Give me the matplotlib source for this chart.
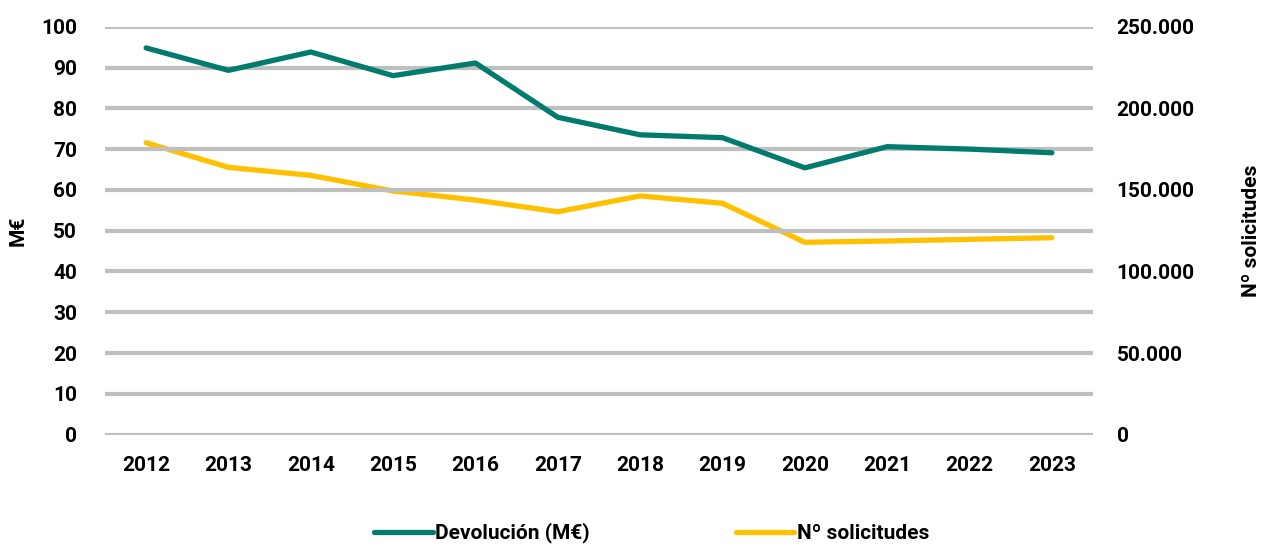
import matplotlib
matplotlib.use("Agg")
import matplotlib.pyplot as plt
from matplotlib.ticker import FuncFormatter

plt.rcParams['font.family'] = ['Roboto', 'DejaVu Sans']
plt.rcParams['font.weight'] = 'bold'

years = ["2012", "2013", "2014", "2015", "2016", "2017", "2018", "2019", "2020", "2021", "2022", "2023"]
devolucion = [94.8, 89.3, 93.8, 88.0, 91.1, 77.8, 73.5, 72.8, 65.4, 70.6, 70.0, 69.1]
solicitudes = [178900, 163800, 158900, 149300, 143800, 136600, 146300, 141800, 117900, 118700, 119700, 120700]

green = "#007B6E"
yellow = "#FFC000"
grid_c = "#BFBFBF"

fig = plt.figure(figsize=(12.63, 5.45), dpi=100)
ax = fig.add_axes([0.0831, 0.2024, 0.7823, 0.7486])
ax2 = ax.twinx()

x = list(range(len(years)))
l1, = ax.plot(x, devolucion, color=green, lw=3.8, solid_capstyle='round', label="Devolución (M€)", zorder=3)
l2, = ax2.plot(x, solicitudes, color=yellow, lw=3.8, solid_capstyle='round', label="Nº solicitudes", zorder=3)

ax.set_xlim(-0.5, len(years) - 0.5)
ax.set_ylim(0, 100)
ax2.set_ylim(0, 250000)
ax.set_yticks(range(0, 101, 10))
ax2.set_yticks(range(0, 250001, 50000))
ax2.yaxis.set_major_formatter(FuncFormatter(lambda v, p: "{:,.0f}".format(v).replace(",", ".")))
ax.set_xticks(x)
ax.set_xticklabels(years)

for v in range(0, 101, 10):
    ax.axhline(v, color=grid_c, lw=3, zorder=1)

for a in (ax, ax2):
    for s in a.spines.values():
        s.set_visible(False)
ax.tick_params(axis='y', length=0, pad=20, labelsize=15)
ax.tick_params(axis='x', length=0, pad=15, labelsize=15)
ax2.tick_params(axis='y', length=0, pad=17, labelsize=15)

ax.set_ylabel("M€", fontsize=15, fontweight='bold', labelpad=10)
ax2.set_ylabel("Nº solicitudes", fontsize=15, fontweight='bold', labelpad=34)

ax.set_zorder(ax2.get_zorder() + 1)
ax.patch.set_visible(False)

fig.legend(handles=[l1, l2], loc='center', bbox_to_anchor=(0.516, 0.022), ncol=2, frameon=False,
           fontsize=15, handlelength=2.8, handletextpad=0.12, columnspacing=7.0)

fig.savefig("out.png", dpi=100)
